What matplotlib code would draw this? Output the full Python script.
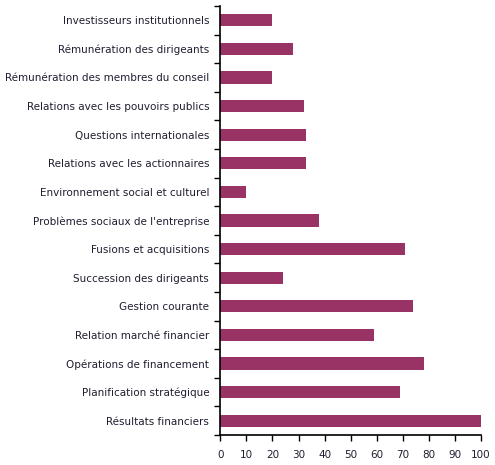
import matplotlib
matplotlib.use("Agg")
import matplotlib.pyplot as plt
import numpy as np

categories = [
    "Investisseurs institutionnels",
    "Rémunération des dirigeants",
    "Rémunération des membres du conseil",
    "Relations avec les pouvoirs publics",
    "Questions internationales",
    "Relations avec les actionnaires",
    "Environnement social et culturel",
    "Problèmes sociaux de l'entreprise",
    "Fusions et acquisitions",
    "Succession des dirigeants",
    "Gestion courante",
    "Relation marché financier",
    "Opérations de financement",
    "Planification stratégique",
    "Résultats financiers",
]
values = [20, 28, 20, 32, 33, 33, 10, 38, 71, 24, 74, 59, 78, 69, 100]
xticks = list(range(0, 101, 10))

plt.rcParams['font.family'] = ['DejaVu Sans']
text_color = '#1e1e30'

fig = plt.figure(figsize=(4.95, 4.65), dpi=100)
ax = fig.add_axes([220.3/495, 1 - 435/465, (481 - 220.3)/495, (435 - 6)/465])

n = len(categories)
pos = np.arange(n)[::-1]
ax.barh(pos, values, height=0.42, color='#993366')
ax.set_xlim(0, 100)
ax.set_ylim(-0.5, n - 0.5)

ax.set_xticks(xticks)
ax.set_xticklabels([str(t) for t in xticks], fontsize=7.5, color=text_color)
ax.set_yticks(pos)
ax.set_yticklabels(categories, fontsize=7.5, color=text_color)
ax.tick_params(axis='y', length=0, pad=8)
ax.set_yticks(np.arange(-0.5, n, 1.0), minor=True)
ax.tick_params(axis='y', which='minor', length=4, width=1, color='black', direction='out')
ax.tick_params(axis='x', length=4, width=1, color='black', direction='out', pad=7)

for s in ['top', 'right']:
    ax.spines[s].set_visible(False)
for s in ['left', 'bottom']:
    ax.spines[s].set_linewidth(1.2)
    ax.spines[s].set_color('black')

fig.savefig('out.png', dpi=100, facecolor='white')
